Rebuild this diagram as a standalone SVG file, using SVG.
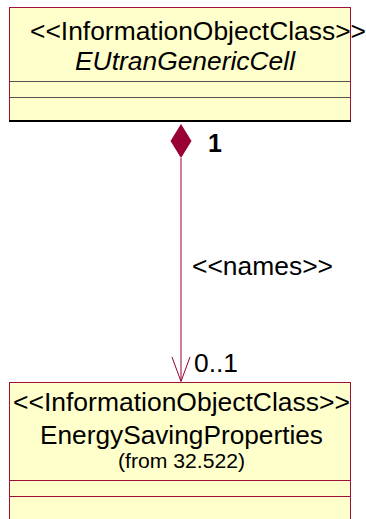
<svg xmlns="http://www.w3.org/2000/svg" width="366" height="519" viewBox="0 0 366 519">
<style>
.box{fill:#FFFFCC;stroke:#A0103A;stroke-width:1}
.t{font-family:"Liberation Sans",Arial,sans-serif;fill:#000}
.conn{stroke:#990033;stroke-width:1;fill:none}
</style>
<rect width="366" height="519" fill="#fff"/>
<g id="EUtranGenericCell">
<rect class="box" x="9.5" y="7.5" width="341" height="114"/>
<line x1="10" y1="81.5" x2="350" y2="81.5" stroke="#555" stroke-width="1.2"/>
<line x1="10" y1="97.5" x2="350" y2="97.5" stroke="#555" stroke-width="1.2"/>
<line x1="9" y1="121" x2="351" y2="121" stroke="#000" stroke-width="2"/>
<text class="t" x="30" y="40" font-size="26" textLength="336" lengthAdjust="spacingAndGlyphs">&lt;&lt;InformationObjectClass&gt;&gt;</text>
<text class="t" x="75" y="70" font-size="26" font-style="italic" textLength="220" lengthAdjust="spacingAndGlyphs">EUtranGenericCell</text>
</g>
<g id="EnergySavingProperties">
<rect class="box" x="9.5" y="382.5" width="341" height="150"/>
<line x1="10" y1="480.5" x2="350" y2="480.5" stroke="#A0103A" stroke-width="1.2"/>
<line x1="10" y1="496.5" x2="350" y2="496.5" stroke="#A0103A" stroke-width="1.2"/>
<text class="t" x="13" y="411" font-size="26" textLength="337" lengthAdjust="spacingAndGlyphs">&lt;&lt;InformationObjectClass&gt;&gt;</text>
<text class="t" x="40" y="444" font-size="26" textLength="283" lengthAdjust="spacingAndGlyphs">EnergySavingProperties</text>
<text class="t" x="118" y="468" font-size="20" textLength="127" lengthAdjust="spacingAndGlyphs">(from 32.522)</text>
</g>
<g id="connectors">
<line class="conn" x1="181" y1="158" x2="181" y2="381"/>
<polygon points="181,124 191.5,141 181,158 170.5,141" fill="#990033"/>
<polyline class="conn" points="172,357 181,381.5 190,357"/>
<text class="t" x="208" y="152" font-size="25" font-weight="bold">1</text>
<text class="t" x="192" y="275" font-size="26" textLength="141" lengthAdjust="spacingAndGlyphs">&lt;&lt;names&gt;&gt;</text>
<text class="t" x="194" y="372" font-size="26" textLength="44" lengthAdjust="spacingAndGlyphs">0..1</text>
</g>
</svg>
